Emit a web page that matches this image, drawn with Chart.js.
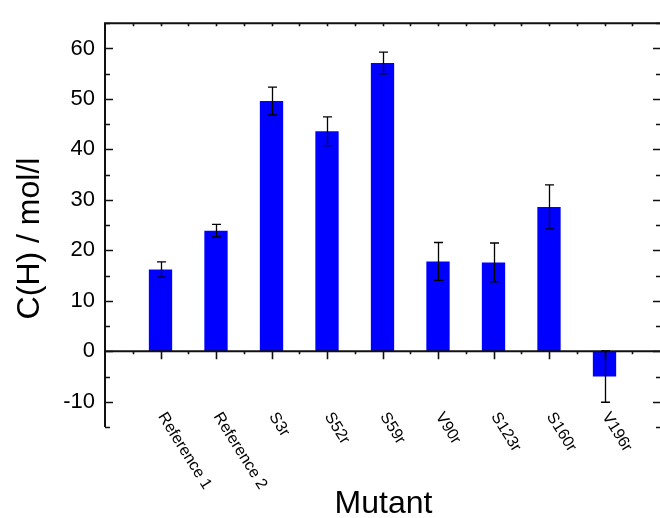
<!DOCTYPE html>
<html>
<head>
<meta charset="utf-8">
<script src="https://cdn.jsdelivr.net/npm/chart.js@4/dist/chart.umd.min.js"></script>
<style>
  html,body{margin:0;padding:0;background:#fff;}
  canvas{display:block;}
</style>
</head>
<body>
<canvas id="myChart" width="660" height="518"></canvas>
<script>
// values
const categories=["Reference 1","Reference 2","S3r","S52r","S59r","V90r","S123r","S160r","V196r"];
const values=[16.2,23.9,49.6,43.6,57.1,17.8,17.6,28.6,-5.0];
const errors=[1.5,1.25,2.75,2.85,2.15,3.75,3.85,4.35,5.1];
const yTickLabels=[-10,0,10,20,30,40,50,60];
const yMinorTicks=[-15,-5,5,15,25,35,45,55,65];
const yTitle="C(H) / mol/l";
const xTitle="Mutant";

const FONT="'Liberation Sans', Arial, Helvetica, sans-serif";

// empty slot on each side so the axis runs from 0 to 10
const labels=["",...categories,""];
const data=[null,...values,null];

const framePlugin={
    id:"frame",
    afterDatasetsDraw(chart){
        const ctx=chart.ctx;
        const xs=chart.scales.x, ys=chart.scales.y;
        const a=chart.chartArea;
        const right=chart.width;   // right frame line falls on the canvas edge
        const meta=chart.getDatasetMeta(0);
        ctx.save();
        ctx.strokeStyle="#111";
        ctx.fillStyle="#000";

        // frame: left and top
        ctx.lineWidth=2;
        ctx.beginPath();
        ctx.moveTo(a.left,a.bottom);
        ctx.lineTo(a.left,a.top);
        ctx.lineTo(right,a.top);
        ctx.stroke();

        // zero line
        const y0=ys.getPixelForValue(0);
        ctx.beginPath();
        ctx.moveTo(a.left,y0);
        ctx.lineTo(right,y0);
        ctx.stroke();

        ctx.lineWidth=1.6;
        ctx.beginPath();
        // y ticks pointing in
        yTickLabels.forEach(v=>{
            const y=Math.round(ys.getPixelForValue(v))+0.5;
            ctx.moveTo(a.left,y);ctx.lineTo(a.left+8,y);
            ctx.moveTo(right,y);ctx.lineTo(right-7,y);
        });
        yMinorTicks.forEach(v=>{
            const y=Math.round(ys.getPixelForValue(v))+0.5;
            ctx.moveTo(a.left,y);ctx.lineTo(a.left+5,y);
            ctx.moveTo(right,y);ctx.lineTo(right-4,y);
        });
        // x ticks on zero line and top
        for(let i=1;i<=categories.length;i++){
            const x=Math.round(xs.getPixelForValue(i))+0.5;
            ctx.moveTo(x,y0);ctx.lineTo(x,y0+8);
            ctx.moveTo(x,a.top);ctx.lineTo(x,a.top+3);
        }
        for(let i=0;i<=categories.length;i++){
            const x=Math.round(xs.getPixelForValue(i+0.5))+0.5;
            ctx.moveTo(x,y0);ctx.lineTo(x,y0+3);
            ctx.moveTo(x,a.top);ctx.lineTo(x,a.top+3);
        }
        ctx.stroke();

        // error bars
        ctx.lineWidth=1.3;
        ctx.strokeStyle="#000";
        ctx.beginPath();
        meta.data.forEach((bar,i)=>{
            if(data[i]===null)return;
            const e=errors[i-1];
            const x=Math.round(bar.x)+0.5;
            const yt=ys.getPixelForValue(data[i]+e);
            const yb=ys.getPixelForValue(data[i]-e);
            ctx.moveTo(x,yt);ctx.lineTo(x,yb);
            ctx.moveTo(x-4.5,yt);ctx.lineTo(x+4.5,yt);
            ctx.moveTo(x-4.5,yb);ctx.lineTo(x+4.5,yb);
        });
        ctx.stroke();

        // rotated category labels
        ctx.font="16px "+FONT;
        ctx.textAlign="left";
        ctx.textBaseline="middle";
        categories.forEach((c,i)=>{
            const x=xs.getPixelForValue(i+1);
            ctx.save();
            ctx.translate(x+1,414);
            ctx.rotate(58*Math.PI/180);
            ctx.fillText(c,0,0);
            ctx.restore();
        });

        // axis titles
        ctx.font="32px "+FONT;
        ctx.textAlign="center";
        ctx.textBaseline="middle";
        ctx.fillText(xTitle,383.5,504);
        ctx.save();
        ctx.translate(30,238.5);
        ctx.rotate(-Math.PI/2);
        ctx.fillText(yTitle,0,0);
        ctx.restore();
        ctx.restore();
    }
};

var ctx=document.getElementById("myChart").getContext("2d");
var myChart=new Chart(ctx,{
    type:"bar",
    data:{
        labels:labels,
        datasets:[{
            data:data,
            backgroundColor:"#0000ff",
            borderWidth:0,
            categoryPercentage:1,
            barPercentage:0.42,
        }],
    },
    options:{
        responsive:false,
        animation:false,
        devicePixelRatio:1,
        layout:{padding:{top:14,right:0,left:0,bottom:0}},
        plugins:{legend:{display:false},tooltip:{enabled:false}},
        scales:{
            x:{
                offset:false,
                grid:{display:false,drawTicks:false},
                border:{display:false},
                ticks:{display:false},
                afterFit:s=>{s.height=91;},
            },
            y:{
                min:-15,
                max:65,
                grid:{display:false,drawTicks:false},
                border:{display:false},
                afterBuildTicks:s=>{s.ticks=yTickLabels.map(v=>({value:v}));},
                ticks:{
                    padding:10,
                    color:"#000",
                    font:{family:FONT,size:22},
                },
                afterFit:s=>{s.width=105;},
            },
        },
    },
    plugins:[framePlugin],
});
</script>
</body>
</html>
